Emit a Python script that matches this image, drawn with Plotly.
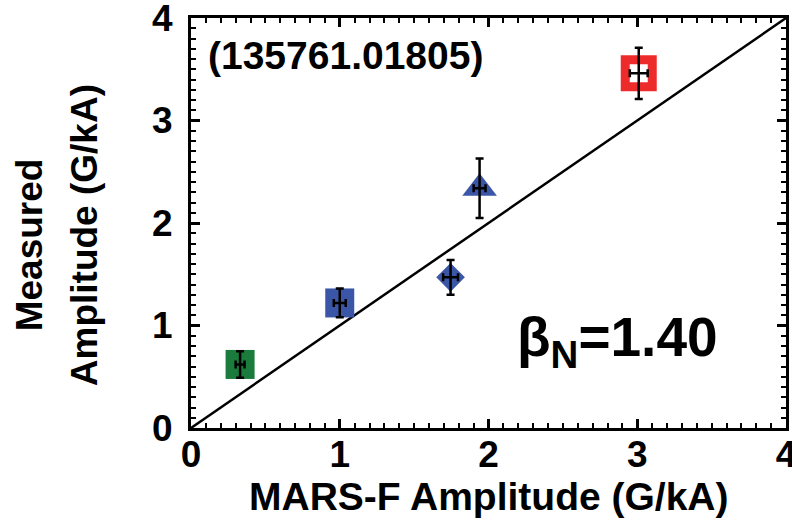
import plotly.graph_objects as go

# Data
mars_x = [0.33, 1.00, 1.745, 1.94, 3.01]
meas_y = [0.62, 1.22, 1.47, 2.34, 3.46]
err_x = [0.03, 0.04, 0.05, 0.04, 0.06]
err_y = [0.13, 0.14, 0.17, 0.29, 0.25]
symbols = ["square", "square", "diamond", "triangle-up", "square-open"]
colors = ["#1b7b3c", "#3b56a6", "#3b56a6", "#3b56a6", "#ee2b2b"]
sizes = [29, 29, 22, 30, 27]
line_w = [0, 0, 0, 0, 9]
shot_label = "(135761.01805)"
beta_label = "β<sub>N</sub>=1.40"
tick_vals = [0, 1, 2, 3, 4]

FONT = "Liberation Sans, Arial, Helvetica, sans-serif"

fig = go.Figure()

# y = x reference line
fig.add_trace(go.Scatter(x=[0, 4], y=[0, 4], mode="lines",
                         line=dict(color="black", width=2.5),
                         showlegend=False, hoverinfo="skip"))

for i in range(len(mars_x)):
    fig.add_trace(go.Scatter(
        x=[mars_x[i]], y=[meas_y[i]], mode="markers",
        marker=dict(symbol=symbols[i], size=sizes[i], color=colors[i],
                    line=dict(color=colors[i], width=line_w[i])),
        showlegend=False))
    fig.add_trace(go.Scatter(
        x=[mars_x[i]], y=[meas_y[i]], mode="markers",
        marker=dict(size=1, color="black"),
        error_x=dict(type="data", array=[err_x[i]], color="black", thickness=2.5, width=4),
        error_y=dict(type="data", array=[err_y[i]], color="black", thickness=2.5, width=4),
        showlegend=False))

axis_common = dict(range=[0, 4], tickvals=tick_vals, ticks="inside", ticklen=9,
                   tickwidth=2.5, tickcolor="black", showline=True, linecolor="black",
                   linewidth=3, mirror="allticks", showgrid=False, zeroline=False,
                   ticklabeloverflow="allow", automargin=False,
                   tickfont=dict(family=FONT, size=37, color="black", weight="bold"),
                   minor=dict(dtick=0.1, ticks="inside", ticklen=5, tickwidth=2,
                              tickcolor="black", showgrid=False))

fig.update_xaxes(**axis_common, ticklabelstandoff=-8)
fig.update_yaxes(**axis_common, ticklabelstandoff=8)

fig.add_annotation(x=0.5, y=-0.168, xref="paper", yref="paper",
                   text="<b>MARS-F Amplitude (G/kA)</b>", showarrow=False,
                   font=dict(family=FONT, size=39, color="black"),
                   xanchor="center", yanchor="middle")
fig.add_annotation(x=-0.272, y=0.446, xref="paper", yref="paper",
                   text="<b>Measured</b>", showarrow=False, textangle=-90,
                   font=dict(family=FONT, size=37, color="black"),
                   xanchor="center", yanchor="middle")
fig.add_annotation(x=-0.18, y=0.47, xref="paper", yref="paper",
                   text="<b>Amplitude (G/kA)</b>", showarrow=False, textangle=-90,
                   font=dict(family=FONT, size=37, color="black"),
                   xanchor="center", yanchor="middle")
fig.add_annotation(x=1.04, y=3.63, xref="x", yref="y",
                   text="<b>" + shot_label + "</b>", showarrow=False,
                   font=dict(family=FONT, size=39, color="black"),
                   xanchor="center", yanchor="middle")
fig.add_annotation(x=2.18, y=0.85, xref="x", yref="y",
                   text="<b>" + beta_label + "</b>", showarrow=False,
                   font=dict(family=FONT, size=55, color="black"),
                   xanchor="left", yanchor="middle")

fig.update_layout(width=792, height=525, paper_bgcolor="white", plot_bgcolor="white",
                  margin=dict(l=191, r=6, t=18, b=97), showlegend=False)

fig.write_html("out.html")
